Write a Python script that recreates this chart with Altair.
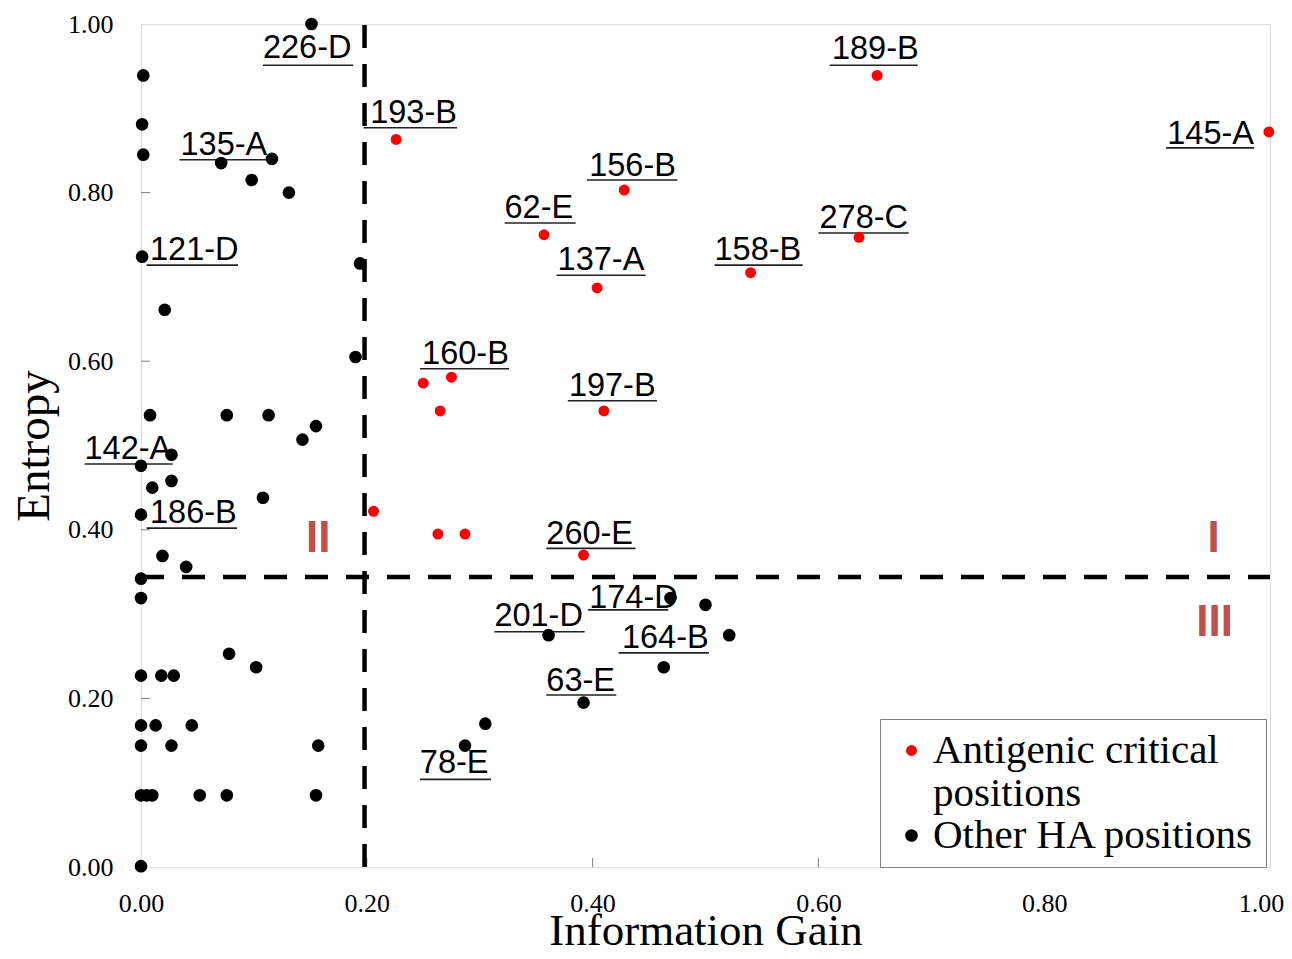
import altair as alt
import pandas as pd

# ---- data ----
red_x = [0.226, 0.652, 0.999, 0.428, 0.357, 0.636, 0.404, 0.540, 0.250, 0.275, 0.265, 0.410, 0.206, 0.263, 0.287, 0.392]
red_y = [0.863, 0.939, 0.872, 0.803, 0.750, 0.747, 0.687, 0.705, 0.574, 0.581, 0.541, 0.541, 0.422, 0.395, 0.395, 0.370]

black_x = [0.151, 0.002, 0.001, 0.002, 0.071, 0.116, 0.098, 0.131, 0.001, 0.194, 0.021, 0.190,
           0.008, 0.076, 0.113, 0.155, 0.143, 0.027, 0.000, 0.010, 0.027, 0.108, 0.000, 0.019,
           0.040, 0.000, 0.000, 0.078, 0.102, 0.000, 0.018, 0.029, 0.000, 0.013, 0.045, 0.000,
           0.027, 0.157, 0.000, 0.005, 0.010, 0.052, 0.076, 0.155, 0.000, 0.287, 0.305, 0.392,
           0.361, 0.469, 0.500, 0.463, 0.521]
black_y = [1.000, 0.939, 0.881, 0.845, 0.835, 0.840, 0.815, 0.800, 0.724, 0.716, 0.661, 0.605,
           0.536, 0.536, 0.536, 0.523, 0.507, 0.489, 0.476, 0.450, 0.458, 0.438, 0.418, 0.369,
           0.356, 0.342, 0.319, 0.253, 0.237, 0.227, 0.227, 0.227, 0.168, 0.168, 0.168, 0.144,
           0.144, 0.144, 0.085, 0.085, 0.085, 0.085, 0.085, 0.085, 0.001, 0.144, 0.170, 0.195,
           0.275, 0.319, 0.311, 0.237, 0.275]

# labels: text, left x, centre y, underline y, underline x1, underline x2 (data units)
lab_text = ["226-D", "193-B", "135-A", "121-D", "189-B", "145-A", "156-B", "62-E", "278-C", "137-A",
            "158-B", "160-B", "197-B", "142-A", "186-B", "260-E", "201-D", "174-D", "164-B", "63-E", "78-E"]
lab_x = [0.108, 0.203, 0.035, 0.008, 0.612, 0.909, 0.397, 0.322, 0.601, 0.369,
         0.508, 0.249, 0.379, -0.050, 0.008, 0.359, 0.313, 0.397, 0.426, 0.359, 0.247]
lab_y = [0.971, 0.894, 0.856, 0.732, 0.970, 0.870, 0.832, 0.782, 0.770, 0.720,
         0.732, 0.608, 0.571, 0.496, 0.420, 0.395, 0.298, 0.319, 0.272, 0.221, 0.123]
ul_y = [0.951, 0.877, 0.839, 0.714, 0.951, 0.853, 0.815, 0.764, 0.752, 0.702,
        0.714, 0.591, 0.553, 0.478, 0.402, 0.378, 0.279, 0.305, 0.254, 0.204, 0.104]
ul_x1 = [0.108, 0.197, 0.034, 0.005, 0.610, 0.908, 0.395, 0.322, 0.600, 0.368,
         0.508, 0.247, 0.378, -0.050, 0.005, 0.359, 0.313, 0.396, 0.423, 0.359, 0.247]
ul_x2 = [0.188, 0.280, 0.112, 0.086, 0.688, 0.986, 0.475, 0.385, 0.680, 0.447,
         0.586, 0.326, 0.457, 0.028, 0.085, 0.438, 0.393, 0.467, 0.503, 0.421, 0.310]

# quadrant numerals
quad_text = ["II", "I", "III"]
quad_x = [0.157, 0.950, 0.951]
quad_y = [0.389, 0.389, 0.290]

# threshold lines
ig_threshold = 0.198
ent_threshold = 0.344

tick_vals = [0.0, 0.2, 0.4, 0.6, 0.8, 1.0]
inner_ticks = [0.2, 0.4, 0.6, 0.8]

# ---- tables ----
pts = pd.DataFrame({
    "x": red_x + black_x,
    "y": red_y + black_y,
    "type": ["Antigenic critical positions"] * len(red_x) + ["Other HA positions"] * len(black_x),
})
labels = pd.DataFrame({"x": lab_x, "y": lab_y, "text": lab_text})
unders = pd.DataFrame({"x": ul_x1, "x2": ul_x2, "y": ul_y})
quads = pd.DataFrame({"x": quad_x, "y": quad_y, "text": quad_text})
vline = pd.DataFrame({"x": [ig_threshold], "y": [0.0], "y2": [1.0]})
hline = pd.DataFrame({"x": [0.0], "x2": [1.0], "y": [ent_threshold]})
xt = pd.DataFrame({"x": inner_ticks, "y": [0.0] * 4, "y2": [0.0107] * 4})
yt = pd.DataFrame({"x": [0.0] * 4, "x2": [0.008] * 4, "y": inner_ticks})

serif = "Liberation Serif"

X = alt.X("x:Q", scale=alt.Scale(domain=[0, 1], nice=False, zero=False),
          axis=alt.Axis(values=tick_vals, format=".2f", title="Information Gain",
                        grid=False, ticks=False, domain=False,
                        labelFont=serif, labelFontSize=26, labelColor="black", labelPadding=23,
                        labelFlush=False,
                        labelOffset={"condition": {"test": "datum.value == 1", "value": -9}, "value": 0},
                        titleFont=serif, titleFontSize=45, titleFontWeight="normal",
                        titleColor="black", titleY=77, titleBaseline="alphabetic"))
Y = alt.Y("y:Q", scale=alt.Scale(domain=[0, 1], nice=False, zero=False),
          axis=alt.Axis(values=tick_vals, format=".2f", title="Entropy",
                        grid=False, ticks=False, domain=False,
                        labelFont=serif, labelFontSize=26, labelColor="black", labelPadding=28,
                        labelFlush=False,
                        titleFont=serif, titleFontSize=47, titleFontWeight="normal",
                        titleColor="black", titleX=-93, titleBaseline="alphabetic"))

points = alt.Chart(pts).mark_circle(opacity=1).encode(
    x=X, y=Y,
    color=alt.Color("type:N",
                    scale=alt.Scale(domain=["Antigenic critical positions", "Other HA positions"],
                                    range=["#ff0000", "#000000"]),
                    legend=alt.Legend(
                        title=None, orient="none", legendX=739, legendY=695,
                        direction="vertical",
                        labelFont=serif, labelFontSize=41, labelColor="black", labelLimit=600,
                        symbolType="circle", symbolSize=120, symbolStrokeWidth=0,
                        strokeColor="#808080", fillColor="white", padding=11,
                        labelOffset=1, rowPadding=0,
                        labelExpr="datum.label == 'Antigenic critical positions' ? ['Antigenic critical', 'positions'] : datum.label",
                    )),
    size=alt.Size("type:N", scale=alt.Scale(domain=["Antigenic critical positions", "Other HA positions"],
                                             range=[120, 160]), legend=None),
)

vrule = alt.Chart(vline).mark_rule(color="black", strokeWidth=4.5, strokeDash=[23, 16]).encode(
    x=X, y=Y, y2="y2:Q")
hrule = alt.Chart(hline).mark_rule(color="black", strokeWidth=4.5, strokeDash=[23, 18]).encode(
    x=X, x2="x2:Q", y=Y)

ul = alt.Chart(unders).mark_rule(color="#222222", strokeWidth=1.6).encode(x=X, x2="x2:Q", y=Y)
txt = alt.Chart(labels).mark_text(align="left", baseline="middle", font="Liberation Sans",
                                  fontSize=32.5, color="black").encode(x=X, y=Y, text="text:N")
qtxt = alt.Chart(quads).mark_text(align="center", baseline="middle", font="Liberation Sans",
                                  fontSize=44, fontWeight="bold", color="#c0504d").encode(
    x=X, y=Y, text="text:N")

xticks = alt.Chart(xt).mark_rule(color="#808080", strokeWidth=1).encode(x=X, y=Y, y2="y2:Q")
yticks = alt.Chart(yt).mark_rule(color="#808080", strokeWidth=1).encode(x=X, x2="x2:Q", y=Y)

chart = alt.layer(xticks, yticks, vrule, hrule, ul, txt, qtxt, points).properties(
    width=1129, height=843,
    autosize=alt.AutoSizeParams(type="none"),
    padding={"left": 133, "top": 16, "right": 14, "bottom": 84},
).configure_view(stroke="#707070", strokeWidth=2).configure(background="white")

chart.save("out.html", embed_options={"renderer": "svg", "actions": False})
